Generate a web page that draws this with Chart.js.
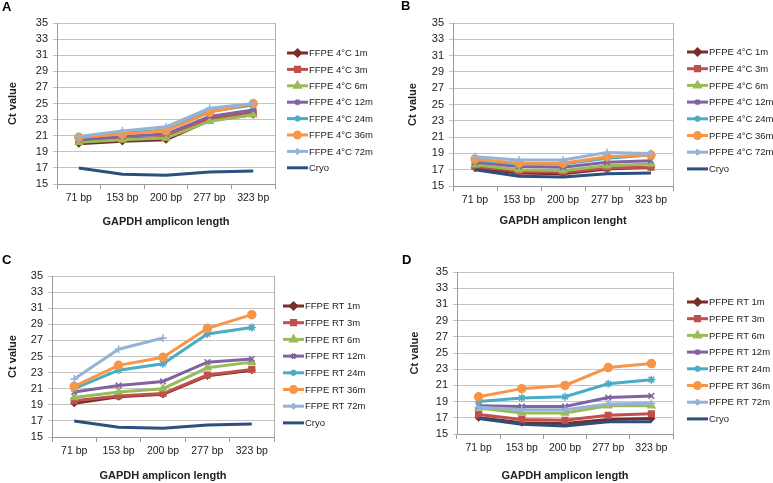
<!DOCTYPE html>
<html>
<head>
<meta charset="utf-8">
<script src="https://cdn.jsdelivr.net/npm/chart.js@4"></script>
<style>
  body { margin: 0; background: #fff; }
  #wrap { position: relative; width: 773px; height: 483px; }
  canvas { position: absolute; }
</style>
</head>
<body>
<div id="wrap">
  <canvas id="chart-a" width="386" height="240" style="left:0;top:0"></canvas>
  <canvas id="chart-b" width="387" height="240" style="left:386px;top:0"></canvas>
  <canvas id="chart-c" width="386" height="243" style="left:0;top:240px"></canvas>
  <canvas id="chart-d" width="387" height="243" style="left:386px;top:240px"></canvas>
</div>
<script>
const categories = ['71 bp', '153 bp', '200 bp', '277 bp', '323 bp'];
const storageTimes = ['1m', '3m', '6m', '12m', '24m', '36m', '72m'];
const yTicks = [15, 35, 2]; // min, max, step

const cryo = [17.0, 16.2, 16.1, 16.5, 16.6];
const cryoD = [16.9, 16.2, 16.0, 16.5, 16.5];

// rows follow storageTimes
const ffpe4C = [
    [20.0, 20.3, 20.5, 22.9, 23.6],
    [20.3, 20.6, 20.8, 23.2, 23.9],
    [20.2, 20.5, 20.7, 22.8, 23.6],
    [20.5, 20.9, 21.2, 23.4, 24.2],
    [20.7, 21.3, 21.7, 24.0, 24.8],
    [20.8, 21.2, 21.6, 23.9, 25.0],
    [20.9, 21.6, 22.1, 24.4, 25.0]
];
const pfpe4C = [
    [17.2, 16.6, 16.5, 17.1, 17.3],
    [17.4, 16.8, 16.7, 17.2, 17.3],
    [17.6, 17.0, 16.9, 17.5, 17.7],
    [17.9, 17.4, 17.3, 17.9, 18.1],
    [18.2, 17.7, 17.7, 18.4, 18.8],
    [18.3, 17.8, 17.8, 18.6, 18.8],
    [18.6, 18.2, 18.2, 19.1, 19.0]
];
const ffpeRT = [
    [19.2, 20.0, 20.3, 22.6, 23.3],
    [19.5, 20.1, 20.4, 22.7, 23.4],
    [19.9, 20.6, 21.0, 23.6, 24.3],
    [20.6, 21.4, 21.9, 24.3, 24.7],
    [21.0, 23.3, 24.1, 27.8, 28.6],
    [21.3, 23.9, 24.9, 28.5, 30.2],
    [22.2, 25.9, 27.3, null, null]
];
const pfpeRT = [
    [17.0, 16.4, 16.3, 16.8, 16.9],
    [17.4, 16.8, 16.7, 17.3, 17.5],
    [18.2, 17.6, 17.6, 18.5, 18.5],
    [18.5, 18.4, 18.4, 19.5, 19.7],
    [19.0, 19.45, 19.6, 21.2, 21.7],
    [19.6, 20.6, 21.0, 23.2, 23.7],
    [18.3, 18.0, 18.0, 18.7, 18.8]
];

const colors = ['#7a2c2a', '#c0504d', '#9bbb59', '#8064a2', '#4bacc6', '#f79646', '#95b3d7'];
const markers = ['rectRot', 'rect', 'triangle', 'crossRot', 'star', 'circle', 'cross'];
const cryoColor = '#2c4f7c';
const FONT = "'Liberation Sans', Arial, sans-serif";

Chart.defaults.font.family = FONT;
Chart.defaults.color = '#222';

const panelDecor = {
    id: 'panelDecor',
    beforeDatasetsDraw(chart) {
        const a = chart.chartArea;
        const ctx = chart.ctx;
        ctx.save();
        ctx.strokeStyle = '#b0b0b0';
        ctx.lineWidth = 1;
        ctx.beginPath();
        ctx.moveTo(Math.round(a.right) + 0.5, a.top);
        ctx.lineTo(Math.round(a.right) + 0.5, a.bottom);
        ctx.stroke();
        ctx.restore();
    },
    afterDraw(chart, args, opts) {
        const ctx = chart.ctx;
        ctx.save();
        ctx.fillStyle = '#000';
        ctx.font = 'bold 13px ' + FONT;
        ctx.textBaseline = 'middle';
        ctx.fillText(opts.letter, opts.lx, opts.ly);

        ctx.font = '9.5px ' + FONT;
        chart.data.datasets.forEach((ds, i) => {
            const y = opts.y + i * opts.gap;
            ctx.strokeStyle = ds.borderColor;
            ctx.lineWidth = 3;
            ctx.beginPath();
            ctx.moveTo(opts.x, y);
            ctx.lineTo(opts.x + 21, y);
            ctx.stroke();
            if (ds.pointRadius > 0) {
                ctx.fillStyle = ds.borderColor;
                ctx.strokeStyle = ds.borderColor;
                Chart.helpers.drawPoint(ctx, {
                    pointStyle: ds.pointStyle, radius: 3, borderWidth: 1, rotation: 0
                }, opts.x + 10.5, y);
            }
            ctx.fillStyle = '#222';
            ctx.fillText(ds.label, opts.x + 22, y + 0.5);
        });
        ctx.restore();
    }
};

function makeDatasets(prefix, rows, cryoValues) {
    const sets = rows.map((vals, i) => ({
        label: prefix + ' ' + storageTimes[i],
        data: vals,
        borderColor: colors[i],
        backgroundColor: colors[i],
        pointBackgroundColor: colors[i],
        pointBorderColor: colors[i],
        pointStyle: markers[i],
        pointRadius: markers[i] === 'rectRot' ? 3 : 4,
        pointBorderWidth: 1.5,
        borderWidth: 3,
        order: 10 - i
    }));
    sets.push({
        label: 'Cryo',
        data: cryoValues,
        borderColor: cryoColor,
        backgroundColor: cryoColor,
        pointRadius: 0,
        borderWidth: 3,
        order: 1
    });
    return sets;
}

function makeChart(id, prefix, rows, cryoValues, lay) {
    new Chart(document.getElementById(id), {
        type: 'line',
        data: { labels: categories, datasets: makeDatasets(prefix, rows, cryoValues) },
        plugins: [panelDecor],
        options: {
            responsive: false,
            animation: false,
            devicePixelRatio: 1,
            spanGaps: false,
            layout: { padding: { top: lay.top, right: lay.right, bottom: 0, left: 0 } },
            plugins: {
                legend: { display: false },
                tooltip: { enabled: false },
                panelDecor: lay.legend
            },
            scales: {
                x: {
                    offset: true,
                    grid: { drawOnChartArea: false, offset: true, tickLength: 5, color: '#999' },
                    border: { color: '#999' },
                    ticks: { font: { size: 10.5 }, padding: 3, maxRotation: 0, autoSkip: false },
                    title: {
                        display: true,
                        text: lay.xTitle,
                        font: { size: 11, weight: 'bold' },
                        padding: { top: 0, bottom: lay.xTitlePad }
                    },
                    afterFit: s => { s.height = lay.xHeight; }
                },
                y: {
                    min: yTicks[0],
                    max: yTicks[1],
                    ticks: { stepSize: yTicks[2], font: { size: 11 }, padding: 5, autoSkip: false },
                    grid: { color: '#c4c4c4', tickLength: 4 },
                    border: { color: '#999' },
                    title: {
                        display: true,
                        text: 'Ct value',
                        font: { size: 11, weight: 'bold' },
                        padding: { top: lay.yTitlePad, bottom: 0 }
                    },
                    afterFit: s => { s.width = lay.yWidth; }
                }
            }
        }
    });
}

makeChart('chart-a', 'FFPE 4°C', ffpe4C, cryo, {
    top: 23, right: 111, xHeight: 56, yWidth: 57, xTitlePad: 11, yTitlePad: 6,
    xTitle: 'GAPDH amplicon length',
    legend: { letter: 'A', lx: 2, ly: 7, x: 287, y: 53, gap: 16.4 }
});
makeChart('chart-b', 'PFPE 4°C', pfpe4C, cryo, {
    top: 23, right: 100, xHeight: 54, yWidth: 67, xTitlePad: 12, yTitlePad: 20,
    xTitle: 'GAPDH amplicon lenght',
    legend: { letter: 'B', lx: 15, ly: 6, x: 301, y: 52, gap: 16.7 }
});
makeChart('chart-c', 'FFPE RT', ffpeRT, cryo, {
    top: 36, right: 112, xHeight: 46, yWidth: 52, xTitlePad: 0, yTitlePad: 6,
    xTitle: 'GAPDH amplicon length',
    legend: { letter: 'C', lx: 2, ly: 20, x: 283, y: 66, gap: 16.7 }
});
makeChart('chart-d', 'PFPE RT', pfpeRT, cryoD, {
    top: 32, right: 100, xHeight: 49, yWidth: 71, xTitlePad: 0, yTitlePad: 22,
    xTitle: 'GAPDH amplicon length',
    legend: { letter: 'D', lx: 16, ly: 20, x: 301, y: 62, gap: 16.7 }
});
</script>
</body>
</html>
